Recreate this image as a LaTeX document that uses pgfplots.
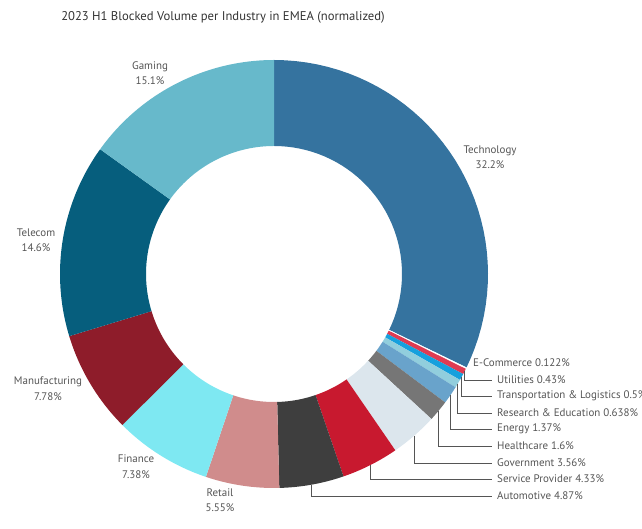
\documentclass[border=0pt]{standalone}
\usepackage{fontspec}
\setmainfont{PT Sans}
\usepackage{pgfplots}
\usepackage{pgfplotstable}
\pgfplotsset{compat=1.18}
\definecolor{cTech}{HTML}{35739F}
\definecolor{cEcom}{HTML}{FFFFFF}
\definecolor{cUtil}{HTML}{DF3B52}
\definecolor{cTrans}{HTML}{16A0DD}
\definecolor{cRes}{HTML}{91CEDD}
\definecolor{cEnergy}{HTML}{69A3CB}
\definecolor{cHealth}{HTML}{767676}
\definecolor{cGov}{HTML}{DCE6ED}
\definecolor{cSP}{HTML}{C8192F}
\definecolor{cAuto}{HTML}{3E3E3E}
\definecolor{cRetail}{HTML}{D08C8C}
\definecolor{cFin}{HTML}{7EE8F2}
\definecolor{cManu}{HTML}{8E1C2A}
\definecolor{cTel}{HTML}{065E7D}
\definecolor{cGame}{HTML}{67B9CB}
\definecolor{labelgray}{HTML}{555555}
\definecolor{titlegray}{HTML}{333333}

\pgfplotstableread{
id value
Technology 32.2
ECommerce 0.122
Utilities 0.43
Transportation 0.5
Research 0.638
Energy 1.37
Healthcare 1.6
Government 3.56
ServiceProvider 4.33
Automotive 4.87
Retail 5.55
Finance 7.38
Manufacturing 7.78
Telecom 14.6
Gaming 15.1
}\shares

% slice between angles sa<i> and sb<i>; ring from radius 128 to 214 around (274,255)
\newcommand\slice[2]{%
  \edef\sliceA{\csname sa#1\endcsname}%
  \edef\sliceB{\csname sb#1\endcsname}%
  \edef\doslice{\noexpand\addplot[fill=#2, draw=none, domain=0:4, samples=161, variable=\noexpand\t]
   ({274+(128+86*((\noexpand\t<2.0001)?min(1,2-\noexpand\t):max(0,\noexpand\t-3)))*cos((\sliceA)+((\sliceB)-(\sliceA))*((\noexpand\t<2.0001)?min(\noexpand\t,1):max(3-\noexpand\t,0)))},
    {255+(128+86*((\noexpand\t<2.0001)?min(1,2-\noexpand\t):max(0,\noexpand\t-3)))*sin((\sliceA)+((\sliceB)-(\sliceA))*((\noexpand\t<2.0001)?min(\noexpand\t,1):max(3-\noexpand\t,0)))});}%
  \doslice}

\begin{document}
\begin{tikzpicture}
\def\total{0}%
\pgfplotsforeachungrouped \i in {0,...,14}{%
  \pgfplotstablegetelem{\i}{value}\of\shares
  \pgfmathsetmacro\total{\total+\pgfplotsretval}%
}%
\def\cum{0}%
\pgfplotsforeachungrouped \i in {0,...,14}{%
  \pgfplotstablegetelem{\i}{value}\of\shares
  \pgfmathsetmacro\a{90-360*(\cum/\total)}%
  \pgfmathsetmacro\cum{\cum+\pgfplotsretval}%
  \pgfmathsetmacro\b{90-360*(\cum/\total)}%
  \expandafter\xdef\csname sa\i\endcsname{\a}%
  \expandafter\xdef\csname sb\i\endcsname{\b}%
}%
\begin{axis}[
  scale only axis, width=642bp, height=529bp,
  xmin=0, xmax=642, ymin=0, ymax=529,
  hide axis, clip=false,
]
\slice{0}{cTech}
\slice{1}{cEcom}
\slice{2}{cUtil}
\slice{3}{cTrans}
\slice{4}{cRes}
\slice{5}{cEnergy}
\slice{6}{cHealth}
\slice{7}{cGov}
\slice{8}{cSP}
\slice{9}{cAuto}
\slice{10}{cRetail}
\slice{11}{cFin}
\slice{12}{cManu}
\slice{13}{cTel}
\slice{14}{cGame}

% leader lines
\addplot[draw=labelgray, line width=0.8bp] coordinates {(464.5,157.5) (464.5,149) (492,149)};
\addplot[draw=labelgray, line width=0.8bp] coordinates {(461.6,152) (461.6,133) (492,133)};
\addplot[draw=labelgray, line width=0.8bp] coordinates {(457.7,145.3) (457.7,116) (492,116)};
\addplot[draw=labelgray, line width=0.8bp] coordinates {(450.4,134) (450.4,100) (492,100)};
\addplot[draw=labelgray, line width=0.8bp] coordinates {(438.4,118) (438.4,83) (492,83)};
\addplot[draw=labelgray, line width=0.8bp] coordinates {(414,93) (414,66) (492,66)};
\addplot[draw=labelgray, line width=0.8bp] coordinates {(370,64) (370,50) (492,50)};
\addplot[draw=labelgray, line width=0.8bp] coordinates {(311.5,44.3) (311.5,33) (492,33)};

\begin{scope}[every node/.style={text=labelgray, inner xsep=0pt, font=\fontsize{11}{15.5}\selectfont}]
\node[anchor=west] at (axis cs:473,166) {E-Commerce 0.122\%};
\node[anchor=west] at (axis cs:497,149) {Utilities 0.43\%};
\node[anchor=west] at (axis cs:497,133) {Transportation \& Logistics 0.5\%};
\node[anchor=west] at (axis cs:497,116) {Research \& Education 0.638\%};
\node[anchor=west] at (axis cs:497,100) {Energy 1.37\%};
\node[anchor=west] at (axis cs:497,83) {Healthcare 1.6\%};
\node[anchor=west] at (axis cs:497,66) {Government 3.56\%};
\node[anchor=west] at (axis cs:497,50) {Service Provider 4.33\%};
\node[anchor=west] at (axis cs:497,33) {Automotive 4.87\%};
\node[align=center] at (axis cs:150,456) {Gaming\\15.1\%};
\node[align=center] at (axis cs:36,289) {Telecom\\14.6\%};
\node[align=center] at (axis cs:490,372) {Technology\\32.2\%};
\node[align=center] at (axis cs:48,140.5) {Manufacturing\\7.78\%};
\node[align=center] at (axis cs:136,62.5) {Finance\\7.38\%};
\node[align=center] at (axis cs:220,29) {Retail\\5.55\%};
\end{scope}
\node[text=titlegray, font=\fontsize{12.7}{15}\selectfont] at (axis cs:223,512) {2023 H1 Blocked Volume per Industry in EMEA (normalized)};
\end{axis}
\pgfresetboundingbox
\path (current axis.south west) rectangle (current axis.north east);
\end{tikzpicture}
\end{document}
